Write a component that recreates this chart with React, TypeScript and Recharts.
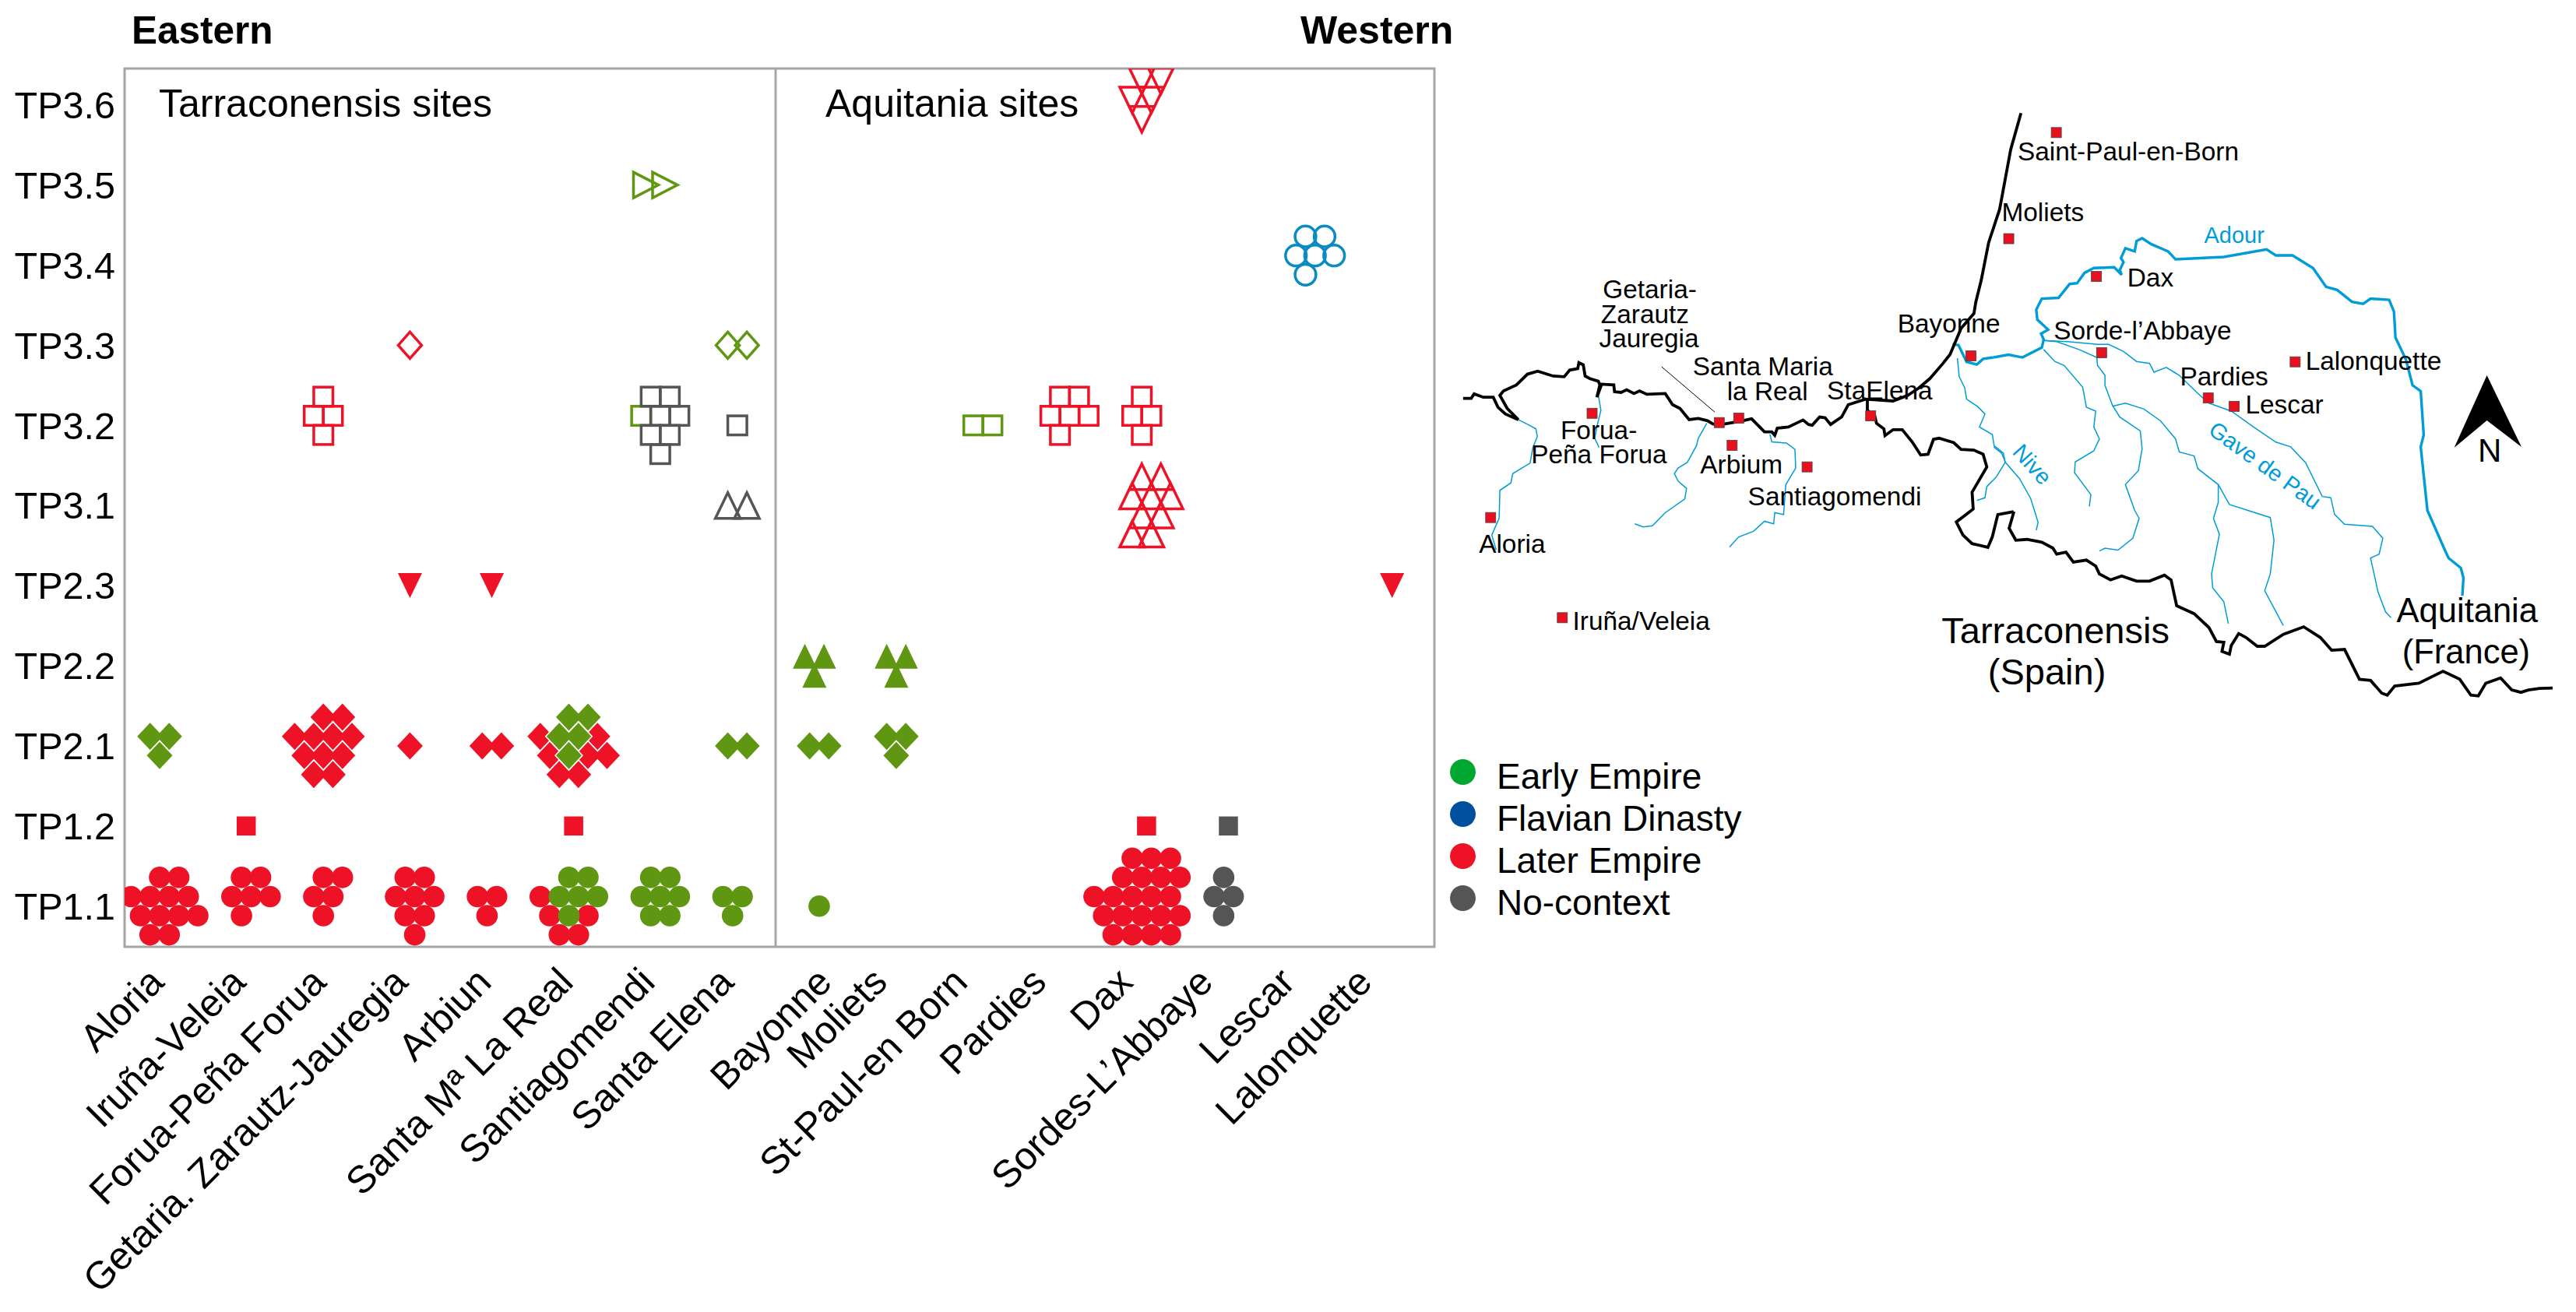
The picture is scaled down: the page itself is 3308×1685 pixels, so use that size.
import React from 'react'
import { ScatterChart, Scatter, XAxis, YAxis, ReferenceArea, ReferenceLine, Legend } from 'recharts'

const FONT = '"Liberation Sans", Arial, sans-serif'

const sites = ['Aloria', 'Iruña-Veleia', 'Forua-Peña Forua', 'Getaria. Zarautz-Jauregia', 'Arbiun', 'Santa Mª La Real', 'Santiagomendi', 'Santa Elena', 'Bayonne', 'Moliets', 'St-Paul-en Born', 'Pardies', 'Dax', 'Sordes-L’Abbaye', 'Lescar', 'Lalonquette']
const periods = ['TP1.1', 'TP1.2', 'TP2.1', 'TP2.2', 'TP2.3', 'TP3.1', 'TP3.2', 'TP3.3', 'TP3.4', 'TP3.5', 'TP3.6']

const legendNames = ['Early Empire', 'Flavian Dinasty', 'Later Empire', 'No-context']
const legendColors = ['#00A832', '#0050A0', '#EE1227', '#555555']

const RED = '#EE1227'
const GREEN = '#5F9612'
const GRAY = '#555555'
const BLUE = '#0A8BC1'
const RIVER = '#009CD8'

// the site names are not set evenly under their columns in the original figure
const siteLabelShift = [0, 0, -2, -2, 0, 0, 0, -4, 17, -17, -19, -23, -17, -19, -19, -25]

// [site, period, rows of sherds]; each row is [row, columns], counted in half a dot
const redCircles = [
  ['Aloria', 'TP1.1', [[-3, [0, 2]], [-1, [-3, -1, 1, 3]], [1, [-2, 0, 2, 4]], [3, [-1, 1]]]],
  ['Iruña-Veleia', 'TP1.1', [[-3, [0, 2]], [-1, [-1, 1, 3]], [1, [0]]]],
  ['Forua-Peña Forua', 'TP1.1', [[-3, [0, 2]], [-1, [-1, 1]], [1, [0]]]],
  ['Getaria. Zarautz-Jauregia', 'TP1.1', [[-3, [0, 2]], [-1, [-1, 1, 3]], [1, [0, 2]], [3, [1]]]],
  ['Arbiun', 'TP1.1', [[-1, [-1, 1]], [1, [0]]]],
  ['Santa Mª La Real', 'TP1.1', [[-1, [-3]], [1, [-2, 2]], [3, [-1, 1]]]],
  ['Dax', 'TP1.1', [[-5, [-1, 1, 3]], [-3, [-2, 0, 2, 4]], [-1, [-5, -3, -1, 1, 3]], [1, [-4, -2, 0, 2, 4]], [3, [-3, -1, 1, 3]]]],
]
const greenCircles = [
  ['Santa Mª La Real', 'TP1.1', [[-3, [0, 2]], [-1, [-1, 1, 3]], [1, [0]]]],
  ['Santiagomendi', 'TP1.1', [[-3, [0, 2]], [-1, [-1, 1, 3]], [1, [0, 2]]]],
  ['Santa Elena', 'TP1.1', [[-1, [-1, 1]], [1, [0]]]],
  ['Bayonne', 'TP1.1', [[0, [0.5]]]],
]
const grayCircles = [['Sordes-L’Abbaye', 'TP1.1', [[-3, [0]], [-1, [-1, 1]], [1, [0]]]]]
const blueOpenCircles = [['Lescar', 'TP3.4', [[-3, [0, 2]], [-1, [-1, 1, 3]], [1, [0]]]]]

const redSquares = [
  ['Iruña-Veleia', 'TP1.2', [[0, [0.5]]]],
  ['Santa Mª La Real', 'TP1.2', [[0, [0.5]]]],
  ['Dax', 'TP1.2', [[0, [0.5]]]],
]
const graySquares = [['Sordes-L’Abbaye', 'TP1.2', [[0, [0.5]]]]]
const redOpenSquares = [
  ['Forua-Peña Forua', 'TP3.2', [[-3, [0]], [-1, [-1, 1]], [1, [0]]]],
  ['Pardies', 'TP3.2', [[-3, [0, 2]], [-1, [-1, 1, 3]], [1, [0]]]],
  ['Dax', 'TP3.2', [[-3, [0]], [-1, [-1, 1]], [1, [0]]]],
]
const greenOpenSquares = [
  ['Santiagomendi', 'TP3.2', [[-1, [-1]]]],
  ['St-Paul-en Born', 'TP3.2', [[0, [-0.5, 1.5]]]],
]
const grayOpenSquares = [
  ['Santiagomendi', 'TP3.2', [[-3, [0, 2]], [-1, [1, 3]], [1, [0, 2]], [3, [1]]]],
  ['Santa Elena', 'TP3.2', [[0, [0.5]]]],
]

const redDiamonds = [
  ['Forua-Peña Forua', 'TP2.1', [[-3, [0, 2]], [-1, [-3, -1, 1, 3]], [1, [-2, 0, 2]], [3, [-1, 1]]]],
  ['Getaria. Zarautz-Jauregia', 'TP2.1', [[0, [0.5]]]],
  ['Arbiun', 'TP2.1', [[0, [-0.5, 1.5]]]],
  ['Santa Mª La Real', 'TP2.1', [[-1, [-3, 3]], [1, [-2, 2, 4]], [3, [-1, 1]]]],
]
const greenDiamonds = [
  ['Aloria', 'TP2.1', [[-1, [-1, 1]], [1, [0]]]],
  ['Santa Mª La Real', 'TP2.1', [[-3, [0, 2]], [-1, [-1, 1]], [1, [0]]]],
  ['Santa Elena', 'TP2.1', [[0, [-0.5, 1.5]]]],
  ['Bayonne', 'TP2.1', [[0, [-0.5, 1.5]]]],
  ['Moliets', 'TP2.1', [[-1, [-1, 1]], [1, [0]]]],
]
const redOpenDiamonds = [['Getaria. Zarautz-Jauregia', 'TP3.3', [[0, [0.5]]]]]
const greenOpenDiamonds = [['Santa Elena', 'TP3.3', [[0, [-0.5, 1.5]]]]]

const redDownTriangles = [
  ['Getaria. Zarautz-Jauregia', 'TP2.3', [[0, [0.5]]]],
  ['Arbiun', 'TP2.3', [[0, [0.5]]]],
  ['Lalonquette', 'TP2.3', [[0, [0.5]]]],
]
const greenTriangles = [
  ['Bayonne', 'TP2.2', [[-1, [-1, 1]], [1, [0]]]],
  ['Moliets', 'TP2.2', [[-1, [-1, 1]], [1, [0]]]],
]
const redOpenTriangles = [['Dax', 'TP3.1', [[-3, [0, 2]], [-1, [-1, 1, 3]], [1, [0, 2]], [3, [-1, 1]]]]]
const grayOpenTriangles = [['Santa Elena', 'TP3.1', [[0, [-0.5, 1.5]]]]]
const redOpenDownTriangles = [['Dax', 'TP3.6', [[-2.5, [0, 2]], [-0.5, [-1, 1]], [1.5, [0]]]]]
const greenOpenRightTriangles = [['Santiagomendi', 'TP3.5', [[0, [-0.5, 1.5]]]]]

// map outlines, in grid units of each map sheet
const coastWest = [[40, 798], [62, 798], [70, 786], [95, 795], [122, 795], [135, 822], [155, 840], [190, 855], [160, 825], [140, 790], [150, 778], [185, 762], [215, 733], [243, 725], [285, 738], [315, 740], [330, 722], [352, 718], [355, 702], [367, 708], [372, 738], [385, 745], [408, 752], [412, 762], [404, 795], [417, 760], [450, 762], [452, 780], [470, 782], [485, 775], [505, 785], [520, 778], [540, 787], [590, 785], [610, 815], [630, 825], [655, 855], [680, 852], [705, 858], [720, 867], [750, 867], [790, 860], [825, 853], [860, 888], [880, 888], [888, 897], [895, 878], [925, 875], [965, 856], [980, 868], [990, 870], [1010, 848], [1025, 850], [1040, 868], [1070, 848], [1088, 815], [1135, 800], [1210, 805], [1250, 790], [1280, 770], [1310, 745], [1345, 705], [1365, 680], [1395, 610], [1430, 570], [1435, 540], [1450, 480], [1470, 380], [1500, 290], [1530, 130], [1558, 32]]
const borderWest = [[1140, 800], [1140, 830], [1160, 845], [1165, 865], [1185, 880], [1188, 898], [1210, 882], [1235, 882], [1262, 915], [1285, 950], [1305, 948], [1320, 908], [1335, 905], [1375, 917], [1395, 935], [1430, 937], [1455, 948], [1465, 982], [1425, 1050], [1428, 1095], [1415, 1105], [1382, 1130], [1400, 1165], [1425, 1188], [1468, 1198], [1480, 1170], [1495, 1110], [1538, 1102]]
const borderEast = [[55, 1033], [42, 1075], [60, 1105], [90, 1103], [130, 1110], [160, 1125], [170, 1140], [195, 1135], [215, 1160], [250, 1155], [275, 1170], [285, 1190], [315, 1205], [345, 1195], [385, 1208], [420, 1208], [460, 1193], [478, 1205], [493, 1270], [540, 1290], [580, 1325], [600, 1360], [620, 1362], [615, 1385], [635, 1392], [640, 1370], [660, 1340], [680, 1350], [710, 1372], [730, 1372], [780, 1342], [835, 1323], [880, 1350], [910, 1382], [945, 1380], [985, 1455], [1015, 1458], [1045, 1490], [1060, 1495], [1080, 1472], [1145, 1465], [1210, 1435], [1255, 1455], [1285, 1495], [1305, 1497], [1325, 1465], [1365, 1452], [1395, 1482], [1420, 1488], [1440, 1482], [1470, 1478], [1505, 1477]]
const leaderLine = [[580, 713], [725, 835]]

const adourWest = [[1372, 652], [1388, 655], [1410, 700], [1438, 707], [1455, 692], [1483, 688]]
const adourEast = [[0, 645], [40, 638], [78, 645], [130, 620], [135, 600], [128, 585], [147, 575], [118, 550], [115, 525], [130, 497], [175, 495], [205, 460], [225, 458], [245, 432], [270, 420], [325, 418], [345, 437], [340, 425], [350, 405], [343, 395], [355, 370], [380, 378], [385, 352], [400, 345], [425, 360], [450, 370], [470, 378], [490, 398], [620, 392], [735, 373], [760, 388], [805, 388], [860, 420], [895, 467], [925, 475], [965, 505], [995, 510], [1015, 497], [1065, 500], [1078, 530], [1082, 595], [1110, 650], [1128, 715], [1150, 730], [1158, 840], [1150, 870], [1168, 1030], [1215, 1130], [1225, 1150], [1258, 1175], [1265, 1200], [1262, 1245]]

const riversWest = [
  [[190, 855], [220, 870], [238, 880], [242, 900], [230, 930], [222, 972], [175, 1000], [170, 1025], [140, 1045], [138, 1120], [118, 1165], [130, 1205]],
  [[408, 790], [415, 830], [405, 870], [398, 905], [410, 930]],
  [[703, 865], [680, 905], [675, 925], [650, 970], [625, 985], [615, 1000], [625, 1020], [648, 1040], [643, 1068], [590, 1105], [555, 1140], [530, 1143], [507, 1135]],
  [[875, 895], [880, 915], [920, 918], [943, 935], [945, 985], [918, 1030], [912, 1110], [888, 1105], [885, 1135], [860, 1128], [830, 1155], [790, 1170], [765, 1197]],
  [[1385, 690], [1390, 740], [1405, 770], [1410, 800], [1440, 820], [1460, 840], [1445, 875], [1480, 895], [1485, 925], [1510, 945], [1515, 970], [1490, 1010], [1465, 1035], [1460, 1065], [1438, 1072]],
]
const riversEast = [
  [[0, 870], [22, 886], [32, 909], [70, 950], [100, 1000], [120, 1060], [115, 1080]],
  [[135, 602], [200, 605], [280, 612], [310, 612], [350, 630], [385, 655], [420, 660], [432, 682], [465, 670], [500, 690], [555, 740], [580, 760], [640, 780], [700, 820], [760, 858], [800, 870], [840, 910], [885, 995], [908, 998], [918, 1040], [945, 1065], [1020, 1070], [1048, 1100], [1038, 1140], [1015, 1150], [1035, 1235], [1055, 1285], [1070, 1300]],
  [[135, 602], [170, 605], [230, 625], [278, 645], [280, 665], [300, 690], [300, 715], [320, 765], [340, 795], [395, 830], [400, 875], [390, 930], [355, 965], [380, 1030], [392, 1050], [375, 1100], [335, 1130], [300, 1125], [285, 1132]],
  [[320, 768], [355, 760], [405, 775], [450, 805], [490, 850], [500, 883], [540, 893], [550, 925], [605, 965], [635, 1015], [745, 1048], [755, 1105], [745, 1190], [730, 1232], [780, 1320]],
  [[605, 965], [605, 1010], [592, 1050], [608, 1090], [587, 1190], [590, 1225], [620, 1260], [632, 1315]],
  [[135, 625], [165, 655], [190, 665], [240, 720], [250, 770], [275, 780], [270, 820], [285, 850], [270, 880], [220, 908], [218, 935], [262, 990], [258, 1020]],
]

const sitesWest = [[391, 838], [737, 863], [790, 851], [772, 924], [976, 982], [1149, 845], [1422, 684], [115, 1118], [310, 1387]]
const sitesEast = [[169, 79], [41, 346], [277, 441], [291, 633], [812, 656], [578, 747], [648, 768]]

const labelsWest = [
  ['Getaria-', 420, 530], ['Zarautz', 415, 595], ['Jauregia', 410, 660], ['Santa Maria', 665, 735], ['la Real', 758, 802],
  ['StaElena', 1030, 800], ['Bayonne', 1222, 622], ['Forua-', 305, 907], ['Peña Forua', 225, 973], ['Arbium', 685, 1000],
  ['Santiagomendi', 815, 1085], ['Aloria', 83, 1213], ['Iruña/Veleia', 338, 1420],
]
const labelsEast = [
  ['Saint-Paul-en-Born', 65, 148], ['Moliets', 22, 302], ['Dax', 360, 467], ['Sorde-l’Abbaye', 162, 600], ['Lalonquette', 840, 676],
  ['Pardies', 502, 715], ['Lescar', 678, 786],
]
const regionsWest = [['Tarraconensis', 1342, 1455], ['(Spain)', 1468, 1566]]
const regionsEast = [['Aquitania', 1085, 1312], ['(France)', 1100, 1415]]
const riverNames = [['Adour', 567, 357, 0], ['Gave de Pau', 575, 835, 36], ['Nive', 48, 885, 48]]

const HALF_COL = 0.1166
const HALF_ROW = 0.1195

// one list of points for each row of each cluster, top row first
const toRows = (clusters: any[]) =>
  clusters.flatMap(([site, period, rows]) =>
    rows.map(([row, cols]: [number, number[]]) =>
      cols.map((col) => ({ x: sites.indexOf(site) + col * HALF_COL, y: periods.indexOf(period) - row * HALF_ROW }))
    )
  )

const toXY = (pairs: number[][]) => pairs.map(([x, y]) => ({ x, y }))

function Mark({ cx, cy, kind, color, open, halo }: any) {
  const paint = open
    ? { fill: 'none', stroke: color, strokeWidth: 3.5, strokeLinejoin: 'miter' as const }
    : { fill: color, stroke: halo ? '#fff' : 'none', strokeWidth: halo ? 3 : 0 }
  if (kind === 'circle') return <circle cx={cx} cy={cy} r={open ? 13.4 : 13.8} {...paint} />
  if (kind === 'square') return <rect x={cx - 12.25} y={cy - 12.25} width={24.5} height={24.5} {...paint} />
  const w = open ? 32 : 31
  const h = open ? 33 : 32
  if (kind === 'diamond') {
    const dw = open ? 30 : 33
    const dh = open ? 34 : 35
    return <path d={`M${cx} ${cy - dh / 2}L${cx + dw / 2} ${cy}L${cx} ${cy + dh / 2}L${cx - dw / 2} ${cy}Z`} {...paint} />
  }
  if (kind === 'up') return <path d={`M${cx} ${cy - h / 2}L${cx + w / 2} ${cy + h / 2}L${cx - w / 2} ${cy + h / 2}Z`} {...paint} />
  if (kind === 'down') return <path d={`M${cx} ${cy + h / 2}L${cx + w / 2} ${cy - h / 2}L${cx - w / 2} ${cy - h / 2}Z`} {...paint} />
  return <path d={`M${cx + w / 2} ${cy}L${cx - w / 2} ${cy - h / 2}L${cx - w / 2} ${cy + h / 2}Z`} {...paint} />
}

const layers: [any[], string, string, boolean][] = [
  [redCircles, 'circle', RED, false],
  [greenCircles, 'circle', GREEN, false],
  [grayCircles, 'circle', GRAY, false],
  [blueOpenCircles, 'circle', BLUE, true],
  [redSquares, 'square', RED, false],
  [graySquares, 'square', GRAY, false],
  [greenOpenSquares, 'square', GREEN, true],
  [redOpenSquares, 'square', RED, true],
  [grayOpenSquares, 'square', GRAY, true],
  [redDiamonds, 'diamond', RED, false],
  [greenDiamonds, 'diamond', GREEN, false],
  [redOpenDiamonds, 'diamond', RED, true],
  [greenOpenDiamonds, 'diamond', GREEN, true],
  [redDownTriangles, 'down', RED, false],
  [greenTriangles, 'up', GREEN, false],
  [redOpenTriangles, 'up', RED, true],
  [grayOpenTriangles, 'up', GRAY, true],
  [redOpenDownTriangles, 'down', RED, true],
  [greenOpenRightTriangles, 'right', GREEN, true],
]

const SiteTick = ({ x, y, payload }: any) => {
  const tx = x + 8 + siteLabelShift[payload.value]
  const ty = y + 40
  return (
    <text x={tx} y={ty} transform={`rotate(-45 ${tx} ${ty})`} textAnchor="end" fontSize={49.5} fontFamily={FONT} fill="#000">
      {sites[payload.value]}
    </text>
  )
}

const LegendBox = () => (
  <div style={{ fontFamily: FONT, fontSize: 46, lineHeight: '54px', color: '#000' }}>
    {legendNames.map((name, i) => (
      <div key={name} style={{ display: 'flex', alignItems: 'center', height: 54 }}>
        <span style={{ width: 33, height: 33, borderRadius: '50%', background: legendColors[i], marginRight: 27 }} />
        <span style={{ position: 'relative', top: 6 }}>{name}</span>
      </div>
    ))}
  </div>
)

const noDot = () => <g />

function MapSheet({ left, top, width, height, domainX, domainY, coast, thick, thin, leader, squares, places, regions, regionSize, rivers, children }: any) {
  return (
    <div style={{ position: 'absolute', left, top }}>
      <ScatterChart width={width} height={height} margin={{ top: 0, right: 0, bottom: 0, left: 0 }}>
        <XAxis type="number" dataKey="x" domain={domainX} hide allowDataOverflow />
        <YAxis type="number" dataKey="y" domain={domainY} reversed hide allowDataOverflow />
        {thin.map((line: number[][], i: number) => (
          <Scatter key={`thin${i}`} data={toXY(line)} line={{ stroke: RIVER, strokeWidth: 1.5 }} shape={noDot} isAnimationActive={false} />
        ))}
        {thick.map((line: number[][], i: number) => (
          <Scatter key={`thick${i}`} data={toXY(line)} line={{ stroke: RIVER, strokeWidth: 3.4 }} shape={noDot} isAnimationActive={false} />
        ))}
        {coast.map((line: number[][], i: number) => (
          <Scatter key={`coast${i}`} data={toXY(line)} line={{ stroke: '#000', strokeWidth: 3.8 }} shape={noDot} isAnimationActive={false} />
        ))}
        {leader && <Scatter data={toXY(leader)} line={{ stroke: '#000', strokeWidth: 1 }} shape={noDot} isAnimationActive={false} />}
        <Scatter
          data={toXY(squares)}
          isAnimationActive={false}
          shape={({ cx, cy }: any) => <rect x={cx - 6.5} y={cy - 6.5} width={13} height={13} fill="#E8101E" stroke="#444" strokeWidth={0.8} />}
        />
        <Scatter
          data={places.map(([name, x, y]: any) => ({ name, x, y }))}
          isAnimationActive={false}
          shape={({ cx, cy, payload }: any) => <text x={cx} y={cy} fontSize={33.4} fontFamily={FONT} fill="#000">{payload.name}</text>}
        />
        <Scatter
          data={regions.map(([name, x, y]: any) => ({ name, x, y }))}
          isAnimationActive={false}
          shape={({ cx, cy, payload }: any) => <text x={cx} y={cy} fontSize={regionSize} fontFamily={FONT} fill="#000">{payload.name}</text>}
        />
        {rivers && (
          <Scatter
            data={rivers.map(([name, x, y, angle]: any) => ({ name, x, y, angle }))}
            isAnimationActive={false}
            shape={({ cx, cy, payload }: any) => (
              <text x={cx} y={cy} transform={`rotate(${payload.angle} ${cx} ${cy})`} fontSize={29} fontFamily={FONT} fill={RIVER}>{payload.name}</text>
            )}
          />
        )}
        {children}
      </ScatterChart>
    </div>
  )
}

export default function App() {
  return (
    <div style={{ position: 'absolute', left: 0, top: 0, width: 3308, height: 1685, background: '#fff', overflow: 'hidden', fontFamily: FONT }}>
      <div style={{ position: 'absolute', left: 0, top: 0 }}>
        <ScatterChart width={3308} height={1685} margin={{ top: 88, right: 1466, bottom: 0, left: 0 }}>
          <XAxis
            type="number"
            dataKey="x"
            domain={[-0.428, 15.575]}
            ticks={sites.map((_, i) => i)}
            interval={0}
            height={469}
            allowDataOverflow
            axisLine={false}
            tickLine={false}
            tick={<SiteTick />}
          />
          <YAxis
            type="number"
            dataKey="y"
            domain={[-0.508, 10.454]}
            ticks={periods.map((_, i) => i)}
            interval={0}
            width={160}
            allowDataOverflow
            axisLine={false}
            tickLine={false}
            tickMargin={6}
            tick={{ fontSize: 48.5, fill: '#000', fontFamily: FONT }}
            tickFormatter={(v: number) => periods[v]}
          />
          <ReferenceArea x1={-0.428} x2={15.575} y1={-0.508} y2={10.454} fill="none" stroke="#A6A6A6" strokeWidth={3} ifOverflow="visible" />
          <ReferenceLine x={7.526} stroke="#A6A6A6" strokeWidth={3} />
          {layers.flatMap(([clusters, kind, color, open], i) =>
            toRows(clusters).flatMap((row: any[], r: number) => {
              const filledDiamond = kind === 'diamond' && !open
              const draw = (halo: boolean) => (
                <Scatter
                  key={`${i}-${r}-${halo}`}
                  data={row}
                  isAnimationActive={false}
                  shape={(p: any) => <Mark cx={p.cx} cy={p.cy} kind={kind} color={color} open={open} halo={halo} />}
                />
              )
              return filledDiamond ? [draw(true), draw(false)] : [draw(false)]
            })
          )}
          <Legend
            layout="vertical"
            align="center"
            verticalAlign="middle"
            wrapperStyle={{ left: 1862, top: 964, width: 500 }}
            content={<LegendBox />}
          />
          <text x={169} y={56} fontSize={49.5} fontWeight="bold" fontFamily={FONT}>Eastern</text>
          <text x={1670} y={56} fontSize={50} fontWeight="bold" fontFamily={FONT}>Western</text>
          <text x={204} y={150} fontSize={50} fontFamily={FONT}>Tarraconensis sites</text>
          <text x={1060} y={150} fontSize={50} fontFamily={FONT}>Aquitania sites</text>
        </ScatterChart>
      </div>
      <MapSheet
        left={1860}
        top={130}
        width={1100}
        height={850}
        domainX={[0, 2330.9]}
        domainY={[0, 1777.35]}
        coast={[coastWest, borderWest]}
        thick={[adourWest]}
        thin={riversWest}
        leader={leaderLine}
        squares={sitesWest}
        places={labelsWest}
        regions={regionsWest}
        regionSize={47}
      />
      <MapSheet
        left={2560}
        top={130}
        width={748}
        height={800}
        domainX={[0, 1568]}
        domainY={[0, 1568]}
        coast={[borderEast]}
        thick={[adourEast]}
        thin={riversEast}
        squares={sitesEast}
        places={labelsEast}
        regions={regionsEast}
        regionSize={43.5}
        rivers={riverNames}
      >
        <polygon points="633.6,352 678,444 633.6,410 591.6,445" fill="#000" />
        <text x={622} y={463} fontSize={42} fontFamily={FONT} fill="#000">N</text>
      </MapSheet>
    </div>
  )
}
